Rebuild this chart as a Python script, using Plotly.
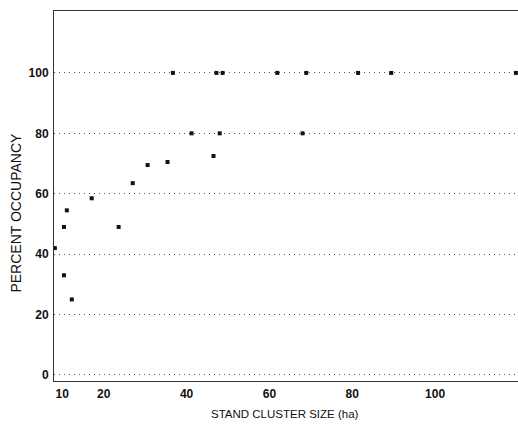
import plotly.graph_objects as go

# Data
cluster_size_ha = [8.2, 10.4, 11.1, 10.4, 12.3, 17.1, 23.6, 27.0, 30.6, 35.4,
                   36.7, 41.2, 46.5, 47.2, 48.0, 48.7, 61.9, 68.0, 68.9, 81.4,
                   89.4, 119.5]
percent_occupancy = [42, 49, 54.5, 33, 25, 58.5, 49, 63.5, 69.5, 70.5,
                     100, 80, 72.5, 100, 80, 100, 100, 80, 100, 100,
                     100, 100]

x_tick_vals = [10, 20, 40, 60, 80, 100]
y_tick_vals = [0, 20, 40, 60, 80, 100]

font_family = "Liberation Sans, Arial, Helvetica, sans-serif"

fig = go.Figure()
fig.add_trace(go.Scatter(
    x=cluster_size_ha, y=percent_occupancy, mode="markers",
    marker=dict(symbol="square", size=4, color="#111111"),
    showlegend=False, cliponaxis=True,
))

fig.update_layout(
    width=518, height=424,
    margin=dict(l=54, r=0, t=11, b=43),
    plot_bgcolor="white", paper_bgcolor="white",
    font=dict(family=font_family, size=11, color="#111111"),
    xaxis=dict(
        range=[8, 120], tickvals=x_tick_vals,
        ticktext=[str(v) for v in x_tick_vals],
        showgrid=False, zeroline=False,
        showline=True, linecolor="#333333", linewidth=1, mirror=True,
        ticks="", ticklabelstandoff=2,
        tickfont=dict(family=font_family, size=12, color="#111111", weight="bold"),
    ),
    yaxis=dict(
        range=[-2, 120.5], tickvals=y_tick_vals,
        ticktext=[str(v) for v in y_tick_vals],
        showgrid=True, gridcolor="#555555", gridwidth=1, griddash="1px,4px",
        zeroline=False,
        showline=True, linecolor="#333333", linewidth=1, mirror=False,
        ticks="", ticklabelstandoff=2,
        tickfont=dict(family=font_family, size=12, color="#111111", weight="bold"),
    ),
    annotations=[
        dict(text="STAND CLUSTER SIZE (ha)", xref="paper", yref="paper",
             x=0.498, y=-0.089, showarrow=False, xanchor="center", yanchor="middle",
             font=dict(family=font_family, size=11.5, color="#111111")),
        dict(text="PERCENT OCCUPANCY", xref="paper", yref="paper",
             x=-0.082, y=0.455, showarrow=False, xanchor="center", yanchor="middle",
             textangle=-90,
             font=dict(family=font_family, size=14, color="#111111")),
    ],
)

fig.write_html("out.html", config={"displayModeBar": False},
               post_script="document.body.style.margin='0';document.body.style.overflow='hidden';")
